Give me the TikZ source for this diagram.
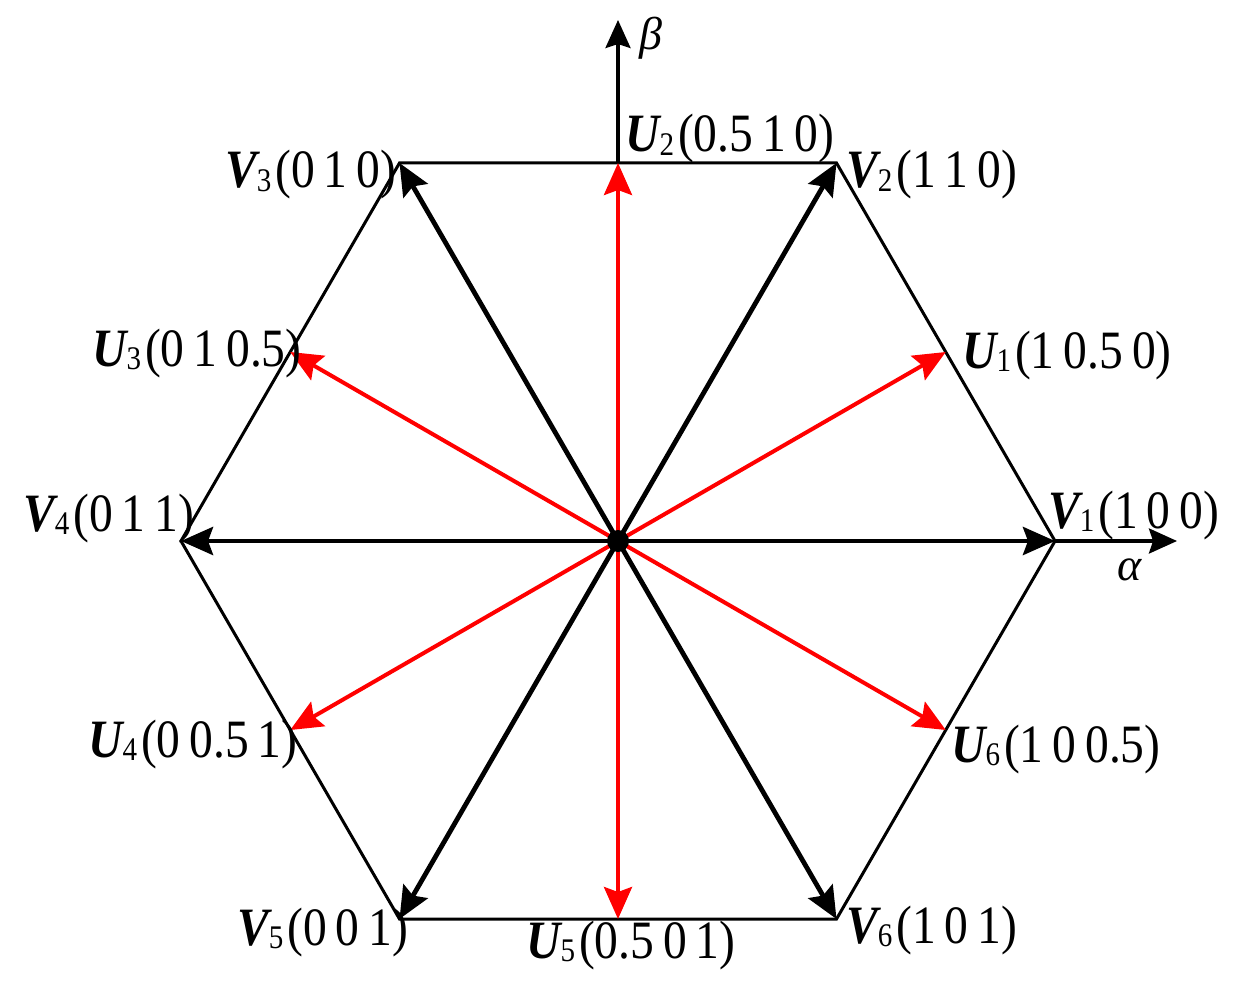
\documentclass[tikz,border=0pt]{standalone}
\usepackage{fontspec}
\setmainfont[FakeStretch=0.88]{Liberation Serif}
\newfontfamily\grk{Liberation Serif}
\usetikzlibrary{arrows.meta}
\newcommand\vlab[3]{{\bfseries\itshape #1}\raisebox{-0.06em}{\fontsize{33}{33}\selectfont #2}\hspace{4pt}#3}
\begin{document}
\begin{tikzpicture}[x=1pt,y=-1pt,
  tipA/.style={-{Stealth[length=32pt,width=28pt,inset=5pt]}},
  vec/.style={tipA, line width=4.8pt, black},
  redvec/.style={tipA, line width=4pt, red},
  hexline/.style={line width=3pt, line join=miter},
  axisline/.style={-{Stealth[length=28pt,width=25pt,inset=4pt]}, line width=3.2pt},
  lbl/.style={font=\fontsize{54}{60}\selectfont, inner sep=0pt, anchor=base west},
  glbl/.style={font=\grk\fontsize{46}{52}\selectfont\itshape, inner sep=0pt}]
\useasboundingbox (0,0) rectangle (1233,984);
\coordinate (O) at (618,541);
\coordinate (V1) at (1055,541);
\coordinate (V2) at (836.5,163);
\coordinate (V3) at (399.5,163);
\coordinate (V4) at (181,541);
\coordinate (V5) at (399.5,919);
\coordinate (V6) at (836.5,919);
\coordinate (U1) at (945.75,352);
\coordinate (U2) at (618,163);
\coordinate (U3) at (290.25,352);
\coordinate (U4) at (290.25,730);
\coordinate (U5) at (618,919);
\coordinate (U6) at (945.75,730);
\coordinate (Btop) at (618,20);
\coordinate (Aend) at (1177,541);
% hexagon
\draw[hexline] (V1) -- (V2) -- (V3) -- (V4) -- (V5) -- (V6) -- cycle;
% axes
\draw[axisline] (U2) -- (Btop);
\draw[axisline] (V1) -- (Aend);
% black vectors
\foreach \v in {V1,V2,V3,V4,V5,V6} \draw[vec] (O) -- (\v);
% red vectors
\foreach \u in {U1,U2,U3,U4,U5,U6} \draw[redvec] (O) -- (\u);
\fill (O) circle[radius=11pt];
% labels
\node[glbl] (beta) at (651,38) {β};
\node[glbl] (alpha) at (1130,570) {α};
\node[lbl] (lU2) at (625,152) {\vlab{U}{2}{(0.5\,1\,0)}};
\node[lbl] (lV2) at (846,188) {\vlab{V}{2}{(1\,1\,0)}};
\node[lbl] (lV3) at (225,188) {\vlab{V}{3}{(0\,1\,0)}};
\node[lbl] (lU1) at (962,368) {\vlab{U}{1}{(1\,0.5\,0)}};
\node[lbl] (lU3) at (92,366) {\vlab{U}{3}{(0\,1\,0.5)}};
\node[lbl] (lV1) at (1048,528) {\vlab{V}{1}{(1\,0\,0)}};
\node[lbl] (lV4) at (23,531) {\vlab{V}{4}{(0\,1\,1)}};
\node[lbl] (lU4) at (88,757) {\vlab{U}{4}{(0\,0.5\,1)}};
\node[lbl] (lU6) at (951,762) {\vlab{U}{6}{(1\,0\,0.5)}};
\node[lbl] (lV5) at (237,945) {\vlab{V}{5}{(0\,0\,1)}};
\node[lbl] (lU5) at (526,958) {\vlab{U}{5}{(0.5\,0\,1)}};
\node[lbl] (lV6) at (846,943) {\vlab{V}{6}{(1\,0\,1)}};
\end{tikzpicture}
\end{document}
